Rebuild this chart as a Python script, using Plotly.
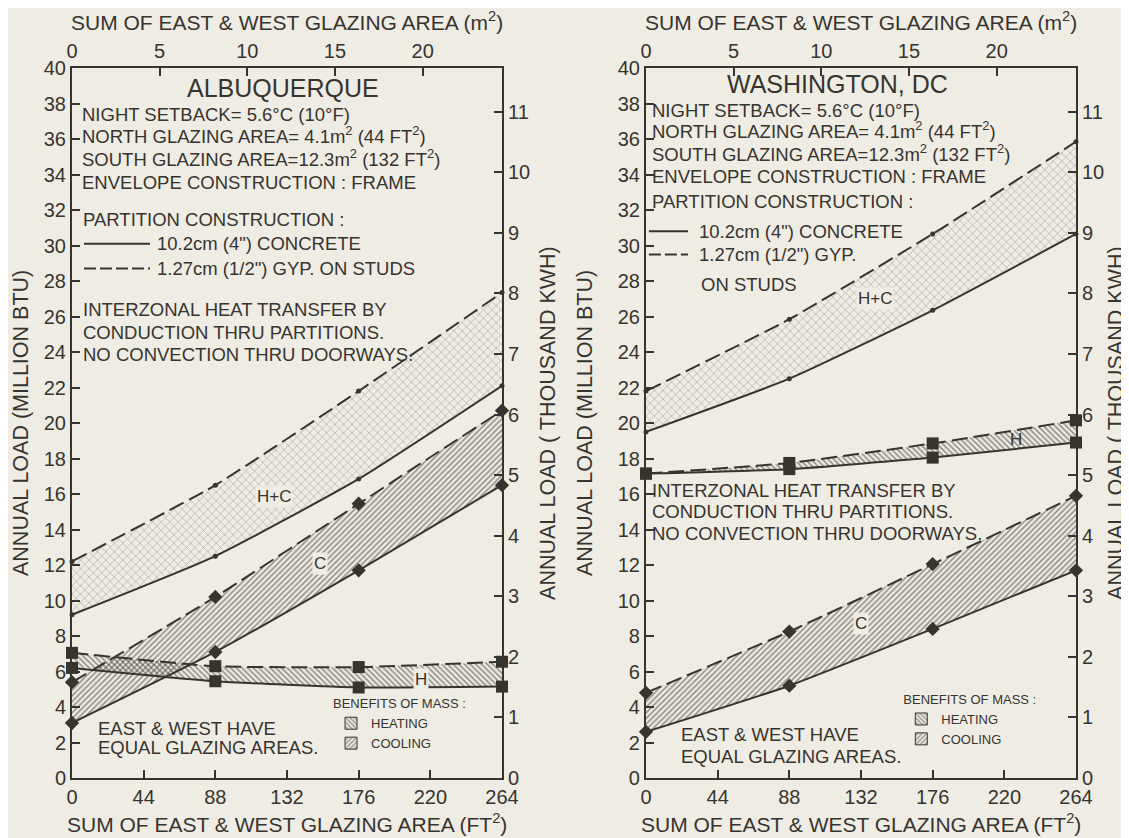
import plotly.graph_objects as go

# ---------------- data ----------------
x_ft = [0, 88, 176, 264]

# Albuquerque (million BTU)
abq_hc_conc = [9.2, 12.5, 16.85, 22.1]
abq_hc_gyp = [12.2, 16.5, 21.8, 27.35]
abq_c_conc = [3.1, 7.1, 11.7, 16.5]
abq_c_gyp = [5.4, 10.2, 15.45, 20.7]
abq_h_conc = [6.2, 5.45, 5.1, 5.15]
abq_h_gyp = [7.05, 6.3, 6.25, 6.55]

# Washington, DC (million BTU)
dc_hc_conc = [19.5, 22.5, 26.35, 30.65]
dc_hc_gyp = [21.8, 25.85, 30.65, 35.85]
dc_h_conc = [17.15, 17.4, 18.05, 18.9]
dc_h_gyp = [17.15, 17.75, 18.85, 20.15]
dc_c_conc = [2.6, 5.2, 8.4, 11.7]
dc_c_gyp = [4.8, 8.25, 12.05, 15.9]

ft_ticks = [0, 44, 88, 132, 176, 220, 264]
m2_ticks = [0, 5, 10, 15, 20]
btu_ticks = list(range(0, 41, 2))
kwh_ticks = list(range(0, 12))

FT2_PER_M2 = 10.7639
KKWH_PER_MBTU = 0.293071
X_MAX = 264
Y_MAX = 40

# ---------------- style ----------------
BG = "#efece4"
INK = "#37342f"
FONT = "Liberation Sans"
DASH = "16px,6px"

fig = go.Figure()


def band(xa, ya, lower, upper, symbol, msize, pattern):
    fig.add_trace(go.Scatter(
        x=x_ft, y=lower, xaxis=xa, yaxis=ya, mode="lines+markers",
        line=dict(color=INK, width=2, shape="spline", smoothing=0.5),
        marker=dict(symbol=symbol, size=msize, color=INK),
        cliponaxis=False, showlegend=False, hoverinfo="skip"))
    fig.add_trace(go.Scatter(
        x=x_ft, y=upper, xaxis=xa, yaxis=ya, mode="lines+markers",
        line=dict(color=INK, width=2, dash=DASH, shape="spline", smoothing=0.5),
        marker=dict(symbol=symbol, size=msize, color=INK),
        fill="tonexty", fillcolor="rgba(0,0,0,0)",
        fillpattern=dict(shape=pattern, size=(6 if pattern == "x" else 4),
                         solidity=(0.15 if pattern == "x" else 0.4),
                         fgcolor=INK, bgcolor="rgba(0,0,0,0)", fillmode="overlay"),
        cliponaxis=False, showlegend=False, hoverinfo="skip"))


# left panel
band("x", "y", abq_hc_conc, abq_hc_gyp, "circle", 5, "x")
band("x", "y", abq_c_conc, abq_c_gyp, "diamond", 11, "/")
band("x", "y", abq_h_conc, abq_h_gyp, "square", 12, "\\")
# right panel
band("x3", "y3", dc_hc_conc, dc_hc_gyp, "circle", 5, "x")
band("x3", "y3", dc_c_conc, dc_c_gyp, "diamond", 11, "/")
band("x3", "y3", dc_h_conc, dc_h_gyp, "square", 12, "\\")

# invisible anchors so the secondary (top / right) axes are drawn
for xa, ya in [("x2", "y"), ("x", "y2"), ("x4", "y3"), ("x3", "y4")]:
    fig.add_trace(go.Scatter(x=[0], y=[0], xaxis=xa, yaxis=ya, mode="markers",
                             marker=dict(opacity=0), showlegend=False, hoverinfo="skip"))

# legend swatches (benefits of mass)
for lg, xa, ya in [("legend", "x", "y"), ("legend2", "x3", "y3")]:
    for name, shp in [("HEATING", "\\"), ("COOLING", "/")]:
        fig.add_trace(go.Bar(
            x=[None], y=[None], xaxis=xa, yaxis=ya, name=name, legend=lg,
            marker=dict(color=BG, line=dict(color=INK, width=1),
                        pattern=dict(shape=shp, size=4, solidity=0.45,
                                     fgcolor=INK, bgcolor=BG)),
            showlegend=True, hoverinfo="skip"))


def axis_style(**kw):
    d = dict(showgrid=False, zeroline=False, showline=True, linecolor=INK, linewidth=2,
             ticks="inside", ticklen=8, tickwidth=1.5, tickcolor=INK,
             tickfont=dict(family=FONT, size=20, color=INK))
    d.update(kw)
    return d


L_DOM = [0, 0.4283]
R_DOM = [0.5717, 1]


def legend_cfg(x, y):
    return dict(x=x, y=y, xanchor="left", yanchor="top", traceorder="normal",
                bgcolor="rgba(0,0,0,0)", tracegroupgap=0, itemwidth=30,
                font=dict(family=FONT, size=13, color=INK),
                title=dict(text="BENEFITS OF MASS :", font=dict(family=FONT, size=13, color=INK)))


# the page body adds an 8px offset; margins compensate so the plot areas land in place
fig.update_layout(
    width=1129, height=838,
    paper_bgcolor=BG, plot_bgcolor=BG,
    margin=dict(l=64, r=61, t=60, b=68),
    showlegend=True,
    xaxis=axis_style(domain=L_DOM, range=[0, X_MAX], anchor="y", tickvals=ft_ticks),
    xaxis2=axis_style(overlaying="x", side="top", anchor="y",
                      range=[0, X_MAX / FT2_PER_M2], tickvals=m2_ticks),
    yaxis=axis_style(domain=[0, 1], range=[0, Y_MAX], anchor="x", tickvals=btu_ticks),
    yaxis2=axis_style(overlaying="y", side="right", anchor="x",
                      range=[0, Y_MAX * KKWH_PER_MBTU], tickvals=kwh_ticks),
    xaxis3=axis_style(domain=R_DOM, range=[0, X_MAX], anchor="y3", tickvals=ft_ticks),
    xaxis4=axis_style(overlaying="x3", side="top", anchor="y3",
                      range=[0, X_MAX / FT2_PER_M2], tickvals=m2_ticks),
    yaxis3=axis_style(domain=[0, 1], range=[0, Y_MAX], anchor="x3", tickvals=btu_ticks),
    yaxis4=axis_style(overlaying="y3", side="right", anchor="x3",
                      range=[0, Y_MAX * KKWH_PER_MBTU], tickvals=kwh_ticks),
    legend=legend_cfg(0.258, 0.122),
    legend2=legend_cfg(0.826, 0.128),
)

ann = []


def txt(text, x, y, xref, yref, size=18.5, xanchor="left", angle=0, bg=None):
    a = dict(text=text, x=x, y=y, xref=xref, yref=yref, showarrow=False,
             xanchor=xanchor, yanchor="middle", textangle=angle,
             font=dict(family=FONT, size=size, color=INK))
    if bg:
        a["bgcolor"] = bg
    ann.append(a)


# axis titles
top_t = "SUM OF EAST &amp; WEST GLAZING AREA (m<sup>2</sup>)"
bot_t = "SUM OF EAST &amp; WEST GLAZING AREA (FT<sup>2</sup>)"
for cx in [0.2141, 0.7859]:
    txt(top_t, cx, 1.066, "paper", "paper", size=21, xanchor="center")
    txt(bot_t, cx, -0.063, "paper", "paper", size=21, xanchor="center")
for px in [-0.0508, 0.511]:
    txt("ANNUAL LOAD (MILLION BTU)", px, 0.5, "paper", "paper", size=21.5, xanchor="center", angle=-90)
for px in [0.474, 1.0398]:
    txt("ANNUAL LOAD ( THOUSAND KWH)", px, 0.5, "paper", "paper", size=21.5, xanchor="center", angle=-90)

# ---- Albuquerque panel text ----
txt("ALBUQUERQUE", 129.5, 38.9, "x", "y", size=25, xanchor="center")
txt("NIGHT SETBACK= 5.6°C (10°F)", 5, 37.4, "x", "y")
txt("NORTH GLAZING AREA= 4.1m<sup>2</sup> (44 FT<sup>2</sup>)", 5, 36.2, "x", "y")
txt("SOUTH GLAZING AREA=12.3m<sup>2</sup> (132 FT<sup>2</sup>)", 5, 34.95, "x", "y")
txt("ENVELOPE CONSTRUCTION : FRAME", 5, 33.55, "x", "y")
txt("PARTITION CONSTRUCTION :", 5.5, 31.45, "x", "y")
txt("10.2cm (4\") CONCRETE", 51, 30.1, "x", "y")
txt("1.27cm (1/2\") GYP. ON STUDS", 51, 28.7, "x", "y")
txt("INTERZONAL HEAT TRANSFER BY", 5.5, 26.4, "x", "y")
txt("CONDUCTION THRU PARTITIONS.", 5.5, 25.1, "x", "y")
txt("NO CONVECTION THRU DOORWAYS.", 5.5, 23.85, "x", "y")
txt("EAST &amp; WEST HAVE", 14.5, 2.8, "x", "y")
txt("EQUAL GLAZING AREAS.", 14.5, 1.7, "x", "y")
txt("H+C", 124, 15.85, "x", "y", size=17, xanchor="center", bg=BG)
txt("C", 152, 12.1, "x", "y", size=17, xanchor="center", bg=BG)
txt("H", 214.5, 5.55, "x", "y", size=17, xanchor="center", bg=BG)

# ---- Washington panel text ----
txt("WASHINGTON, DC", 117.5, 39.1, "x3", "y3", size=25, xanchor="center")
txt("NIGHT SETBACK= 5.6°C (10°F)", 2.5, 37.6, "x3", "y3")
txt("NORTH GLAZING AREA= 4.1m<sup>2</sup> (44 FT<sup>2</sup>)", 2.5, 36.5, "x3", "y3")
txt("SOUTH GLAZING AREA=12.3m<sup>2</sup> (132 FT<sup>2</sup>)", 2.5, 35.2, "x3", "y3")
txt("ENVELOPE CONSTRUCTION : FRAME", 2.5, 33.9, "x3", "y3")
txt("PARTITION CONSTRUCTION :", 2.5, 32.5, "x3", "y3")
txt("10.2cm (4\") CONCRETE", 31.3, 30.8, "x3", "y3")
txt("1.27cm (1/2\") GYP.", 31.3, 29.5, "x3", "y3")
txt("ON STUDS", 32.3, 27.8, "x3", "y3")
txt("INTERZONAL HEAT TRANSFER BY", 2.5, 16.2, "x3", "y3")
txt("CONDUCTION THRU PARTITIONS.", 2.5, 15.0, "x3", "y3")
txt("NO CONVECTION THRU DOORWAYS.", 2.5, 13.8, "x3", "y3")
txt("EAST &amp; WEST HAVE", 20.3, 2.45, "x3", "y3")
txt("EQUAL GLAZING AREAS.", 20.3, 1.2, "x3", "y3")
txt("H+C", 140.5, 27.0, "x3", "y3", size=17, xanchor="center", bg=BG)
txt("C", 132, 8.7, "x3", "y3", size=17, xanchor="center", bg=BG)
txt("H", 227, 19.05, "x3", "y3", size=17, xanchor="center")

fig.update_layout(annotations=ann)

# line-type key samples
shapes = []
for xr, yr, x0, x1, ys, yd in [("x", "y", 7.4, 47.9, 30.1, 28.7),
                               ("x3", "y3", 1.8, 25.8, 30.8, 29.5)]:
    shapes.append(dict(type="line", xref=xr, yref=yr, x0=x0, x1=x1, y0=ys, y1=ys,
                       line=dict(color=INK, width=2)))
    shapes.append(dict(type="line", xref=xr, yref=yr, x0=x0, x1=x1, y0=yd, y1=yd,
                       line=dict(color=INK, width=2, dash="12px,4px")))
fig.update_layout(shapes=shapes)

fig.write_html("out.html")
